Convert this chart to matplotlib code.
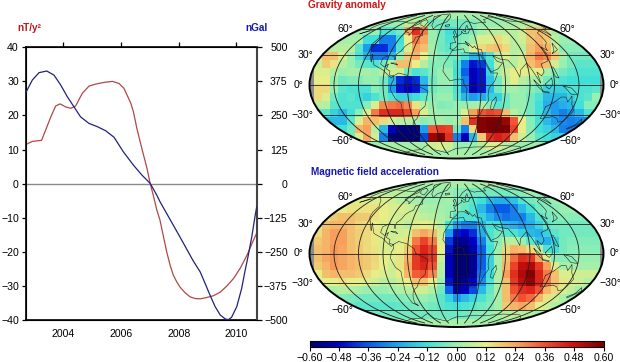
#!/usr/bin/env python3

import numpy as np
import matplotlib
matplotlib.use("Agg")
import matplotlib.pyplot as plt
from matplotlib.colors import LinearSegmentedColormap
from matplotlib.patches import Ellipse

plt.rcParams['font.family'] = ['Liberation Sans', 'DejaVu Sans']
plt.rcParams['axes.unicode_minus'] = True

##################################################
##                  time series                 ##
##################################################

mag_years = [2002.71, 2002.93, 2003.25, 2003.39, 2003.57, 2003.74, 2003.89, 2004.09,
             2004.26, 2004.43, 2004.66, 2004.89, 2005.12, 2005.41, 2005.70, 2005.93,
             2006.10, 2006.34, 2006.43, 2006.55, 2006.72, 2006.90, 2007.01, 2007.13,
             2007.24, 2007.35, 2007.47, 2007.58, 2007.70, 2007.81, 2007.93, 2008.05,
             2008.22, 2008.39, 2008.57, 2008.74, 2008.97, 2009.20, 2009.44, 2009.67,
             2009.90, 2010.13, 2010.37, 2010.54, 2010.70]
mag_values = [11.5, 12.4, 12.7, 15.7, 19.6, 22.8, 23.4, 22.5, 22.1, 22.8, 26.5, 28.6,
              29.2, 29.7, 30.0, 29.4, 28.0, 23.6, 21.1, 16.2, 10.4, 4.5, 0.1, -3.8,
              -7.7, -10.7, -15.5, -19.9, -23.9, -26.8, -28.8, -30.4, -32.0, -33.2,
              -33.7, -33.8, -33.4, -32.9, -31.8, -30.0, -27.8, -24.8, -20.9, -17.5, -14.5]

grav_years = [2002.71, 2002.93, 2003.16, 2003.43, 2003.68, 2003.91, 2004.14, 2004.37,
              2004.60, 2004.89, 2005.18, 2005.47, 2005.76, 2006.08, 2006.43, 2006.72,
              2007.01, 2007.24, 2007.35, 2007.58, 2007.81, 2008.05, 2008.28, 2008.50,
              2008.74, 2008.91, 2009.08, 2009.26, 2009.44, 2009.61, 2009.72, 2009.83,
              2010.01, 2010.18, 2010.29, 2010.41, 2010.53, 2010.64, 2010.70]
grav_values = [335, 380, 407, 413, 398, 362, 319, 282, 245, 221, 209, 194, 170, 117,
               68, 32, 1, -42, -66, -109, -152, -197, -241, -283, -323, -365, -408,
               -451, -482, -496, -499, -490, -451, -384, -323, -262, -195, -121, -85]

year_ticks = [2004, 2006, 2008, 2010]
mag_ticks = [-40, -30, -20, -10, 0, 10, 20, 30, 40]
grav_ticks = [-500, -375, -250, -125, 0, 125, 250, 375, 500]
lat_ticks = [60, 30, 0, -30, -60]
bar_ticks = [-0.60, -0.48, -0.36, -0.24, -0.12, 0.00, 0.12, 0.24, 0.36, 0.48, 0.60]

##################################################
##       map cells, hundredths, 35 x 18         ##
##################################################

gravity_map = [
    [2, 2, 2, 2, 2, 2, 2, 2, 2, 2, 2, 2, 2, 2, 2, 2, 2, 2, 2, 2, 2, 2, 2, 2, 2, 2, 2, 2, 2, 2, 2, 2, 2, 2, 2],
    [2, 2, 2, 2, 2, 2, 2, 2, 0, 0, 0, 5, 5, 5, -5, -5, -5, -5, -5, -3, 0, 0, 0, 2, 2, 5, 5, 5, 5, 5, 5, 5, 5, 5, 5],
    [2, 2, 2, 0, 0, 0, 0, 0, -10, -10, -5, 24, 42, 30, 0, -5, -12, -10, -5, -3, 2, 5, 5, 5, 5, 8, 20, 20, 15, 2, 2, 2, 2, 2, 2],
    [2, 2, 2, 2, 2, 2, -12, -12, -30, -30, -12, 12, 30, 24, 0, -5, -10, -5, -2, 2, 10, 10, 15, 10, 5, 8, 18, 22, 18, 5, 0, 0, 0, 0, 0],
    [5, 5, 5, 5, 5, -8, -25, -42, -42, -30, -10, 10, 24, 20, 2, -5, -8, -5, 0, 10, 15, 18, 20, 15, 5, 5, 20, 25, 22, 8, -2, -2, -2, -2, -2],
    [10, 20, 20, 10, 0, -10, -20, -30, -30, -20, 0, 18, 22, 12, 0, -3, -5, -5, -10, -20, -20, -10, 5, 10, 5, 8, 22, 30, 28, 18, 2, -5, -5, -5, -5],
    [8, 18, 14, 5, 0, -5, -8, -10, -5, 5, 20, 20, 12, 4, -2, -2, -3, -10, -30, -45, -40, -12, 5, 5, 5, 10, 20, 25, 20, 8, 0, -5, -8, -8, -8],
    [10, 10, 5, 0, 2, 2, 2, 0, 5, 8, 8, -5, -10, -8, -3, 0, 0, -12, -35, -50, -45, -15, 2, 8, 12, 12, 10, 12, 2, -2, -5, -8, -10, -10, -10],
    [12, 12, 0, -5, -3, -3, 0, 0, -5, -20, -42, -45, -42, -20, -5, 0, 0, -10, -30, -50, -45, -18, -5, 5, 12, 5, 2, 2, -5, -8, -10, -12, -12, -12, -12],
    [15, 15, 0, -8, -10, -10, -10, -2, -5, -25, -45, -48, -45, -25, -5, -2, -2, -10, -30, -52, -45, -20, -5, 2, 2, 0, -2, -5, -15, -15, -15, -10, -10, -10, -8],
    [15, 10, -5, -10, -8, -12, -15, -10, -5, -10, -15, -15, -12, -8, -2, 0, 0, -8, -20, -25, -22, -15, -15, -5, 0, 0, -5, -10, -20, -20, -20, -15, -10, -8, 0],
    [5, 5, -8, -10, -10, -10, -2, 10, 28, 30, 32, 28, 14, 5, 0, -3, -2, 0, 0, 2, 3, -2, -8, -5, 0, 0, -5, -12, -22, -25, -22, -20, -12, -2, -2],
    [-8, -8, -15, -20, -12, -2, 10, 30, 42, 44, 44, 38, 25, 10, 2, 0, 0, 0, 10, 25, 35, 38, 36, 20, 5, 0, -5, -12, -20, -25, -30, -25, -20, -10, -10],
    [-20, -20, -20, -20, -8, 10, 22, 20, 15, 8, 5, 5, 2, -2, 0, 2, 0, 2, 20, 42, 58, 60, 60, 55, 35, 12, -2, -12, -20, -25, -28, -30, -28, -28, -28],
    [-12, -12, -12, -12, -5, 22, 25, 5, -20, -50, -58, -58, -58, -25, 35, 40, 38, -5, -30, 15, 58, 60, 60, 60, 38, 12, -2, -12, -15, -20, -30, -30, -30, -30, -30],
    [-5, -5, -5, -5, -5, 10, 24, 8, -30, -60, -60, -60, -60, -38, 55, 60, 42, -30, -50, -20, 18, 42, 45, 42, 20, 8, 0, -8, -12, -15, -15, -15, -15, -15, -15],
    [0, 0, 0, 0, 0, 0, 0, 0, 2, 2, 2, 2, 2, 2, 8, 10, 8, 0, 0, 0, 5, 10, 10, 5, 2, 0, 0, 0, 0, 0, 0, 0, 0, 0, 0],
    [2, 2, 2, 2, 2, 2, 2, 2, 2, 2, 2, 2, 2, 2, 2, 2, 2, 2, 2, 2, 2, 2, 2, 2, 2, 2, 2, 2, 2, 2, 2, 2, 2, 2, 2],
]

magnetic_map = [
    [2, 2, 2, 2, 2, 2, 2, 2, 2, 2, 2, 2, 2, 2, 2, 2, 2, 2, 2, 2, 2, 2, 2, 2, 2, 2, 2, 2, 2, 2, 2, 2, 2, 2, 2],
    [5, 5, 5, 5, 5, 5, 5, 5, 5, 5, 5, 3, 3, 0, 0, 0, 0, -2, -3, -5, -5, -5, -5, -5, -3, -2, 0, 0, 0, 0, 0, 0, 0, 0, 0],
    [10, 10, 10, 10, 10, 10, 10, 10, 10, 8, 5, 3, 2, 0, 0, 0, 2, -3, -5, -8, -12, -20, -22, -22, -18, -10, -5, -3, -2, 0, 0, 0, 0, 0, 0],
    [8, 8, 8, 12, 14, 14, 14, 14, 12, 10, 10, 8, 6, 3, 2, 2, 0, -3, -6, -10, -20, -30, -36, -36, -30, -20, -12, -5, -3, -2, 0, 0, 0, 0, 0],
    [10, 10, 18, 20, 20, 18, 18, 14, 12, 10, 8, 8, 8, 6, 5, 3, 0, -10, -10, -10, -15, -22, -28, -32, -30, -30, -20, -10, -5, -3, -2, -2, -2, -2, -2],
    [10, 20, 22, 22, 20, 16, 15, 12, 10, 8, 8, 5, 10, 12, 10, 5, -12, -25, -30, -30, -20, -12, -12, -20, -22, -25, -22, -15, -8, -5, -5, -5, -5, -5, -5],
    [15, 22, 25, 25, 20, 17, 15, 13, 10, 8, 8, 10, 20, 24, 20, 8, -25, -45, -48, -42, -22, -10, -5, -8, -10, -15, -20, -22, -15, -8, -5, -5, -5, -5, -5],
    [18, 22, 25, 25, 20, 17, 15, 13, 10, 8, 10, 14, 30, 38, 30, 10, -40, -55, -55, -48, -30, -10, -2, 5, 5, 0, -8, -18, -22, -15, -5, -3, -3, -3, -3],
    [20, 22, 26, 24, 20, 18, 15, 14, 10, 10, 12, 18, 36, 44, 38, 12, -45, -60, -60, -52, -35, -12, 0, 16, 22, 20, 15, 5, -10, -12, -5, -2, -2, -2, -2],
    [20, 24, 26, 24, 22, 20, 18, 16, 12, 10, 14, 22, 40, 46, 40, 8, -50, -60, -60, -55, -35, -15, 2, 20, 32, 42, 40, 24, 10, -2, -2, -2, 0, 0, 0],
    [18, 22, 26, 24, 22, 20, 18, 15, 12, 8, 14, 24, 40, 44, 36, 5, -50, -60, -60, -55, -35, -15, 2, 22, 38, 50, 52, 40, 25, 10, 2, 2, 2, 2, 2],
    [12, 20, 22, 20, 20, 18, 15, 12, 10, 8, 12, 22, 34, 36, 28, 4, -50, -60, -60, -55, -32, -12, 3, 25, 42, 52, 58, 44, 30, 20, 10, 10, 8, 8, 8],
    [12, 12, 12, 14, 12, 12, 10, 8, 5, 5, 8, 12, 20, 20, 12, 0, -45, -60, -55, -48, -28, -10, 3, 20, 40, 50, 56, 44, 30, 20, 14, 10, 8, 4, 4],
    [3, 3, 3, 5, 4, 2, 0, 0, 0, 2, 3, 5, 8, 8, 4, -5, -35, -55, -50, -38, -20, -7, 2, 20, 36, 42, 44, 36, 22, 15, 10, 6, 2, 2, 2],
    [-3, -3, -3, -3, -4, -5, -5, -5, -5, -5, -3, -2, 0, 0, -2, -8, -15, -25, -20, -15, -10, -5, 2, 20, 30, 36, 32, 22, 14, 8, 3, 0, 0, 0, 0],
    [-5, -5, -5, -5, -5, -8, -8, -8, -8, -8, -7, -5, -4, -3, -5, -8, -10, -12, -10, -8, -5, -3, 2, 18, 22, 24, 20, 12, 8, 3, 3, 3, 3, 3, 3],
    [-5, -5, -5, -5, -5, -5, -5, -5, -5, -5, -5, -5, -5, -5, -5, -5, -6, -6, -5, -3, -2, 0, 2, 5, 5, 5, 3, 0, 0, 0, 0, 0, 0, 0, 0],
    [2, 2, 2, 2, 2, 2, 2, 2, 2, 2, 2, 2, 2, 2, 2, 2, 2, 2, 2, 2, 2, 2, 2, 2, 2, 2, 2, 2, 2, 2, 2, 2, 2, 2, 2],
]

##################################################
##            rough coastlines (lon, lat)       ##
##################################################

north_america = [(-165, 54), (-158, 58), (-165, 61), (-166, 66), (-156, 71), (-140, 70), (-125, 70),
                  (-110, 68), (-95, 68), (-94, 72), (-85, 69), (-82, 67), (-94, 60), (-92, 57), (-82, 55),
                  (-79, 52), (-78, 58), (-78, 62), (-70, 61), (-65, 60), (-56, 52), (-66, 50), (-65, 45),
                  (-70, 43), (-74, 40), (-76, 35), (-81, 31), (-80, 25), (-83, 29), (-90, 30), (-97, 27),
                  (-97, 21), (-91, 18), (-87, 21), (-88, 16), (-83, 14), (-83, 10), (-78, 9), (-80, 7),
                  (-85, 10), (-92, 15), (-105, 20), (-110, 27), (-113, 31), (-110, 23), (-115, 30),
                  (-122, 37), (-124, 43), (-123, 49), (-133, 56), (-146, 61), (-155, 58), (-165, 54)]
south_america = [(-78, 9), (-72, 12), (-62, 10), (-52, 5), (-50, 0), (-42, -3), (-35, -6), (-37, -12),
                 (-40, -21), (-48, -26), (-54, -34), (-58, -36), (-62, -39), (-66, -45), (-69, -52),
                 (-66, -55), (-73, -52), (-74, -42), (-71, -30), (-70, -18), (-76, -14), (-81, -5),
                 (-80, 1), (-77, 5), (-78, 9)]
africa = [(-6, 35), (10, 37), (11, 33), (20, 32), (25, 32), (32, 31), (37, 21), (43, 12), (51, 12),
          (47, 4), (40, -3), (39, -10), (40, -16), (35, -22), (32, -29), (26, -34), (18, -34),
          (14, -22), (12, -12), (13, -4), (9, 1), (9, 5), (4, 6), (-4, 5), (-8, 4), (-13, 9),
          (-17, 14), (-16, 21), (-10, 29), (-6, 35)]
eurasia = [(-9, 37), (-9, 43), (-1, 44), (-4, 48), (4, 52), (9, 54), (9, 57), (12, 54), (21, 55),
           (24, 59), (30, 60), (22, 60), (22, 65), (17, 61), (16, 56), (11, 59), (5, 60), (12, 66),
           (25, 71), (40, 67), (45, 68), (68, 69), (72, 73), (90, 75), (105, 78), (130, 71), (160, 70),
           (180, 69), (170, 60), (163, 60), (157, 52), (155, 59), (140, 55), (135, 44), (127, 39),
           (126, 35), (121, 39), (122, 31), (118, 24), (108, 21), (109, 13), (105, 9), (100, 13),
           (103, 2), (98, 9), (94, 16), (90, 22), (80, 15), (78, 8), (73, 18), (67, 25), (57, 26),
           (52, 28), (48, 30), (52, 24), (59, 22), (52, 16), (43, 13), (35, 28), (35, 36), (28, 37),
           (26, 40), (23, 38), (19, 42), (13, 45), (18, 40), (12, 43), (3, 43), (0, 39), (-5, 36), (-9, 37)]
greenland = [(-73, 78), (-60, 82), (-30, 83), (-18, 77), (-22, 70), (-40, 65), (-44, 60), (-52, 65),
             (-55, 70), (-73, 78)]
australia = [(114, -22), (122, -18), (130, -12), (136, -12), (140, -17), (143, -11), (146, -19),
             (153, -26), (150, -37), (144, -38), (138, -34), (131, -32), (124, -33), (115, -34), (114, -22)]
antarctica = [(-180, -78), (-150, -76), (-120, -73), (-90, -72), (-60, -65), (-58, -72), (-30, -77),
              (0, -70), (40, -68), (70, -68), (100, -66), (140, -67), (165, -72), (180, -78)]
madagascar = [(49, -12), (50, -16), (47, -25), (44, -24), (44, -17), (49, -12)]
great_britain = [(-5, 50), (1, 51), (-1, 55), (-3, 58), (-6, 56), (-3, 53), (-5, 50)]
iceland = [(-23, 65), (-15, 66), (-14, 64), (-22, 63), (-23, 65)]
japan = [(130, 32), (136, 34), (141, 36), (142, 43), (140, 41), (135, 35), (130, 32)]
sumatra = [(95, 5), (104, -2), (106, -6), (100, -2), (95, 5)]
java = [(106, -6), (114, -7), (114, -8), (106, -7), (106, -6)]
borneo = [(109, 1), (117, 7), (118, 1), (114, -4), (110, -2), (109, 1)]
new_guinea = [(131, -1), (141, -3), (150, -10), (141, -9), (135, -4), (131, -1)]
new_zealand = [(173, -35), (178, -38), (175, -41), (170, -46), (167, -45), (173, -41), (173, -35)]
philippines = [(120, 18), (122, 18), (124, 12), (126, 7), (122, 8), (120, 14), (120, 18)]
baffin = [(-80, 73), (-68, 70), (-65, 63), (-75, 65), (-85, 70), (-80, 73)]
cuba = [(-84, 22), (-75, 20), (-78, 22), (-84, 22)]

coasts = [north_america, south_america, africa, eurasia, greenland, australia, antarctica,
          madagascar, great_britain, iceland, japan, sumatra, java, borneo, new_guinea,
          new_zealand, philippines, baffin, cuba]

bar_colors = ["#00006e", "#0000c8", "#0a5ae8", "#20a4ee", "#40e0d8", "#98f0b0",
              "#e8ee88", "#f8a860", "#f05030", "#d01010", "#780000"]
jet_like = LinearSegmentedColormap.from_list("jet_like", bar_colors)

W, H = 620.0, 362.0
CELLS_X = 17.5
HALF_W = 18.0
HALF_H = 9.0


def px_axes(fig, x0, y0, x1, y1, **kw):
    # pixel box with the origin at the top left
    return fig.add_axes([x0/W, 1 - y1/H, (x1-x0)/W, (y1-y0)/H], **kw)


def draw_map(fig, x0, y0, x1, y1, cells, cmap):
    ax_img = px_axes(fig, x0, y0, x1, y1)
    outline = Ellipse((0, 0), 2*HALF_W, 2*HALF_H, transform=ax_img.transData,
                      facecolor="#8c8c8c", edgecolor="none", zorder=1)
    ax_img.add_patch(outline)
    im = ax_img.imshow(np.array(cells) / 100.0, cmap=cmap, vmin=-0.6, vmax=0.6,
                       extent=[-CELLS_X, CELLS_X, -HALF_H, HALF_H],
                       interpolation="nearest", aspect="auto", zorder=2)
    im.set_clip_path(outline)
    ax_img.set_xlim(-HALF_W, HALF_W)
    ax_img.set_ylim(-HALF_H, HALF_H)
    ax_img.axis("off")

    ax = px_axes(fig, x0, y0, x1, y1, projection="mollweide")
    ax.patch.set_visible(False)
    ax.set_longitude_grid(30)
    ax.set_latitude_grid(30)
    ax.set_longitude_grid_ends(80)
    ax.set_xticklabels([])
    ax.set_yticklabels([])
    ax.grid(True, color="#222222", linewidth=0.6)
    ax.spines["geo"].set_linewidth(1.4)

    for coast in coasts:
        lon, lat = np.radians(np.array(coast)).T
        ax.plot(lon, lat, color="#222222", linewidth=0.4)

    for lat in lat_ticks:
        txt = f"{lat}°".replace("-", "\u2212")
        dx = 8 if abs(lat) == 60 else 8.5
        if lat == 0:
            dx = 6
        ax.annotate(txt, (-np.pi, np.radians(lat)), xytext=(-dx*0.72, 0),
                    textcoords="offset points", ha="right", va="center", fontsize=7.6,
                    annotation_clip=False)
        ax.annotate(txt, (np.pi, np.radians(lat)), xytext=(dx*0.72, 0),
                    textcoords="offset points", ha="left", va="center", fontsize=7.6,
                    annotation_clip=False)
    return im


fig = plt.figure(figsize=(W/100, H/100), dpi=100)

##################################################
##              painel da esquerda              ##
##################################################

ax = px_axes(fig, 25.7, 47.3, 256.7, 320)
ax.set_xlim(2002.70, 2010.70)
ax.set_ylim(-40, 40)
ax.set_xticks(year_ticks)
ax.set_yticks(mag_ticks)
ax.set_yticklabels([str(t).replace("-", "\u2212") for t in mag_ticks])
ax.tick_params(axis="x", direction="out", top=True, bottom=False, labelbottom=True,
               length=3.5, width=0.9, labelsize=7.6, pad=3)
ax.tick_params(axis="y", direction="out", length=3, width=0.9, labelsize=7.6, pad=2)
for s in ax.spines.values():
    s.set_linewidth(1.2)
ax.axhline(0, color="#8a8a8a", linewidth=1.0, zorder=1)
ax.plot(mag_years, mag_values, color="#b04848", linewidth=0.9, zorder=3)

ax2 = ax.twinx()
ax2.set_ylim(-500, 500)
ax2.set_yticks(grav_ticks)
ax2.set_yticklabels([str(t).replace("-", "\u2212") for t in grav_ticks], ha="right")
ax2.tick_params(axis="y", direction="out", length=3.5, width=0.9, labelsize=7.6, pad=18.8)
ax2.spines["right"].set_linewidth(1.5)
ax2.spines["right"].set_color("#444444")
ax2.plot(grav_years, grav_values, color="#22227a", linewidth=0.9, zorder=4)

fig.text(17/W, 1 - 28/H, "nT/y\u00b2", color="#c01818", fontsize=7.2, fontweight="bold", va="center")
fig.text(245/W, 1 - 28/H, "nGal", color="#1818b0", fontsize=7.2, fontweight="bold", va="center")

##################################################
##                    mapas                     ##
##################################################

draw_map(fig, 309.5, 11.5, 603.5, 158.5, gravity_map, jet_like)
im = draw_map(fig, 309.5, 180, 603.5, 327, magnetic_map, jet_like)

fig.text(308/W, 1 - 5/H, "Gravity anomaly", color="#cc1818", fontsize=7.2, fontweight="bold", va="center")
fig.text(311/W, 1 - 172/H, "Magnetic field acceleration", color="#1818b0", fontsize=7.2,
         fontweight="bold", va="center")

cax = px_axes(fig, 309.5, 341, 603.5, 346.7)
cbar = fig.colorbar(im, cax=cax, orientation="horizontal")
cbar.set_ticks(bar_ticks)
cbar.set_ticklabels([f"{t:.2f}".replace("-", "\u2212") for t in bar_ticks])
cax.tick_params(direction="out", length=3, width=0.8, labelsize=7.6, pad=1.5)
cbar.outline.set_linewidth(0.8)

fig.savefig("out.png", dpi=100)
